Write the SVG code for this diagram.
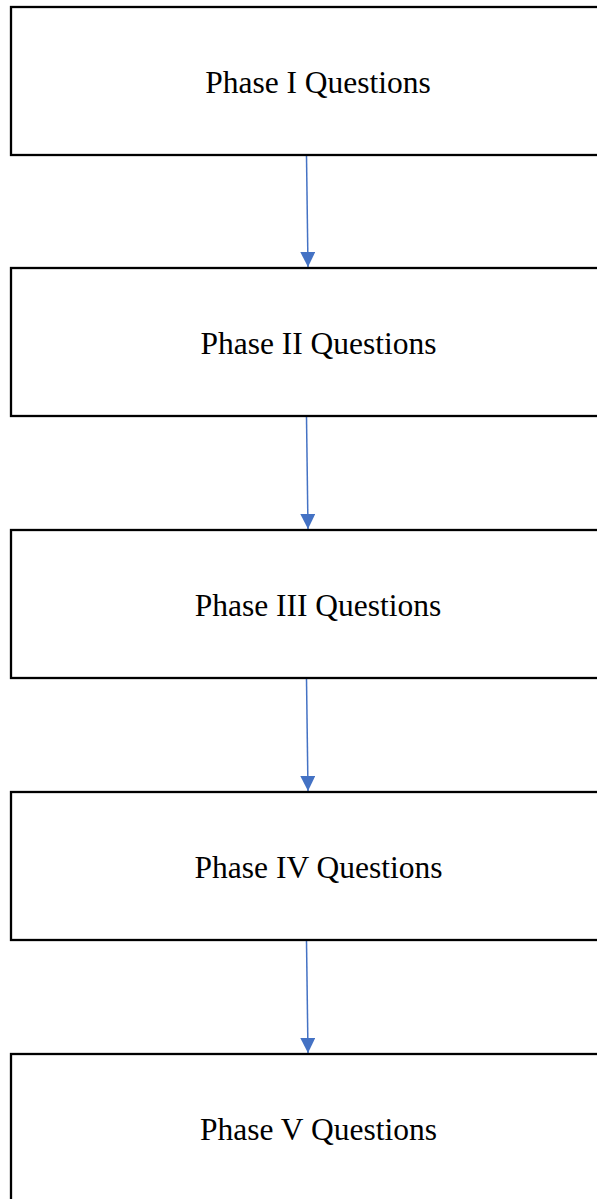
<svg xmlns="http://www.w3.org/2000/svg" width="597" height="1199" viewBox="0 0 597 1199">
<style>
.box{fill:#fff;stroke:#000;stroke-width:2.3}
.lbl{font-family:"Liberation Serif","Times New Roman",serif;font-size:31.5px;fill:#000;text-anchor:middle}
.arr{stroke:#4472C4;stroke-width:1.5;fill:none}
</style>
<defs>
<marker id="ah" viewBox="0 0 15 15" refX="15" refY="7.5" markerWidth="15" markerHeight="15" markerUnits="userSpaceOnUse" orient="auto">
<path d="M0,0 L15,7.5 L0,15 Z" fill="#4472C4"/>
</marker>
</defs>
<rect width="597" height="1199" fill="#fff"/>
<g id="connectors">
<line class="arr" x1="306.5" y1="156" x2="308" y2="267" marker-end="url(#ah)"/>
<line class="arr" x1="306.5" y1="417" x2="308" y2="529" marker-end="url(#ah)"/>
<line class="arr" x1="306.5" y1="679" x2="308" y2="791" marker-end="url(#ah)"/>
<line class="arr" x1="306.5" y1="941" x2="308" y2="1053" marker-end="url(#ah)"/>
</g>
<g id="node1"><rect class="box" x="11" y="7" width="620" height="148"/><text class="lbl" x="318" y="92.5">Phase I Questions</text></g>
<g id="node2"><rect class="box" x="11" y="268" width="620" height="148"/><text class="lbl" x="318.5" y="354">Phase II Questions</text></g>
<g id="node3"><rect class="box" x="11" y="530" width="620" height="148"/><text class="lbl" x="318" y="616">Phase III Questions</text></g>
<g id="node4"><rect class="box" x="11" y="792" width="620" height="148"/><text class="lbl" x="318.5" y="878">Phase IV Questions</text></g>
<g id="node5"><rect class="box" x="11" y="1054" width="620" height="160"/><text class="lbl" x="318.5" y="1140">Phase V Questions</text></g>
</svg>
